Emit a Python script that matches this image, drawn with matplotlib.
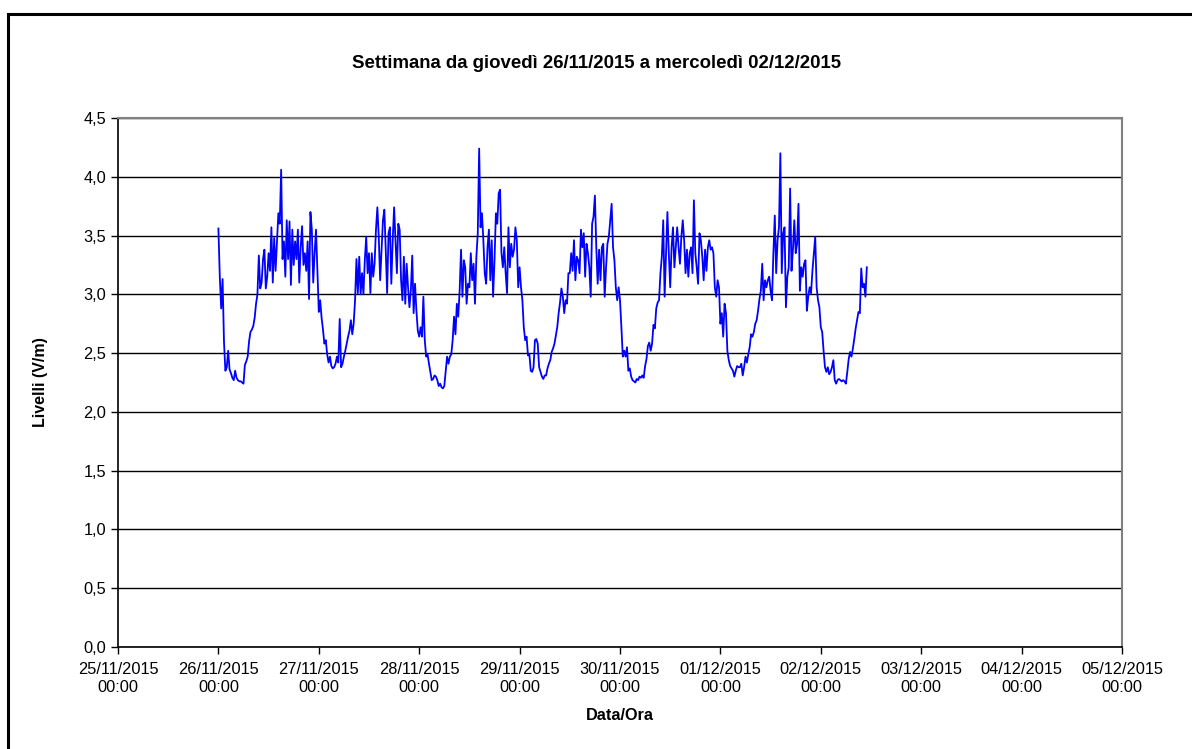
import matplotlib.pyplot as plt
import matplotlib.dates as mdates
import pandas as pd
from matplotlib.patches import Rectangle

plt.rcParams['font.family'] = ['Liberation Sans', 'DejaVu Sans']

# campioni ogni 20 minuti, un elenco per giorno (3 valori per ora)
g26 = [3.56, 3.15, 2.88, 3.13, 2.60, 2.35, 2.38, 2.52, 2.36, 2.33, 2.29, 2.27,
       2.35, 2.29, 2.27, 2.26, 2.26, 2.25, 2.24, 2.40, 2.43, 2.47, 2.60, 2.68,
       2.70, 2.73, 2.80, 2.92, 3.00, 3.33, 3.05, 3.10, 3.30, 3.38, 3.05, 3.15,
       3.35, 3.20, 3.57, 3.10, 3.48, 3.20, 3.45, 3.69, 3.60, 4.06, 3.30, 3.45,
       3.15, 3.63, 3.30, 3.62, 3.08, 3.55, 3.25, 3.45, 3.30, 3.55, 3.10, 3.40,
       3.58, 3.25, 3.35, 3.20, 3.45, 2.96, 3.70, 3.55, 3.10, 3.35, 3.55, 3.20]
g27 = [2.85, 2.95, 2.80, 2.70, 2.58, 2.61, 2.49, 2.42, 2.47, 2.39, 2.37, 2.38,
       2.41, 2.47, 2.42, 2.79, 2.38, 2.41, 2.47, 2.52, 2.58, 2.64, 2.69, 2.78,
       2.66, 2.75, 2.95, 3.30, 3.01, 3.32, 3.00, 3.18, 3.00, 3.29, 3.49, 3.18,
       3.35, 3.01, 3.35, 3.15, 3.26, 3.55, 3.74, 3.49, 3.12, 3.38, 3.63, 3.72,
       3.38, 3.01, 3.52, 3.57, 3.09, 3.46, 3.74, 3.46, 3.18, 3.60, 3.55, 3.12,
       2.95, 3.32, 2.92, 3.26, 3.06, 2.89, 3.03, 3.33, 2.84, 3.09, 2.86, 2.69]
g28 = [2.64, 2.72, 2.64, 2.98, 2.61, 2.47, 2.49, 2.41, 2.34, 2.27, 2.28, 2.31,
       2.30, 2.27, 2.22, 2.24, 2.21, 2.20, 2.22, 2.35, 2.47, 2.41, 2.47, 2.49,
       2.61, 2.81, 2.66, 2.92, 2.81, 3.03, 3.38, 2.98, 3.29, 3.23, 2.92, 3.09,
       3.06, 3.35, 3.12, 3.26, 2.92, 3.32, 3.52, 4.24, 3.57, 3.69, 3.46, 3.18,
       3.09, 3.40, 3.55, 3.12, 3.46, 2.98, 3.29, 3.69, 3.60, 3.86, 3.89, 3.35,
       3.23, 3.40, 3.18, 3.01, 3.57, 3.23, 3.43, 3.32, 3.38, 3.57, 3.46, 3.06]
g29 = [3.23, 3.06, 2.95, 2.72, 2.61, 2.64, 2.48, 2.49, 2.35, 2.34, 2.38, 2.61,
       2.62, 2.58, 2.38, 2.34, 2.30, 2.28, 2.31, 2.31, 2.37, 2.41, 2.44, 2.51,
       2.54, 2.58, 2.65, 2.72, 2.84, 2.93, 3.05, 2.98, 2.84, 2.95, 2.92, 3.18,
       3.18, 3.35, 3.20, 3.46, 3.12, 3.32, 3.29, 3.18, 3.55, 3.40, 3.52, 3.15,
       3.43, 3.35, 3.23, 2.98, 3.60, 3.66, 3.84, 3.40, 3.09, 3.38, 3.12, 3.40,
       3.43, 2.98, 3.23, 3.43, 3.49, 3.63, 3.77, 3.40, 3.29, 3.06, 2.95, 3.06]
g30 = [2.95, 2.72, 2.47, 2.52, 2.47, 2.55, 2.35, 2.37, 2.30, 2.27, 2.26, 2.25,
       2.28, 2.27, 2.30, 2.29, 2.31, 2.29, 2.39, 2.45, 2.56, 2.59, 2.52, 2.58,
       2.74, 2.71, 2.88, 2.93, 2.95, 3.18, 3.32, 3.63, 2.98, 3.35, 3.70, 3.35,
       3.06, 3.40, 3.57, 3.23, 3.40, 3.57, 3.40, 3.26, 3.49, 3.63, 3.46, 3.18,
       3.38, 3.15, 3.35, 3.40, 3.18, 3.80, 3.35, 3.23, 3.09, 3.52, 3.46, 3.32,
       3.12, 3.38, 3.20, 3.40, 3.46, 3.38, 3.40, 3.35, 3.06, 2.98, 3.12, 3.06]
g01 = [2.75, 2.84, 2.64, 2.92, 2.84, 2.52, 2.44, 2.39, 2.37, 2.35, 2.30, 2.35,
       2.39, 2.38, 2.38, 2.41, 2.31, 2.38, 2.47, 2.42, 2.49, 2.55, 2.66, 2.64,
       2.68, 2.75, 2.78, 2.86, 2.96, 3.03, 3.26, 2.95, 3.12, 3.06, 3.12, 3.15,
       3.03, 2.95, 3.35, 3.67, 3.18, 3.46, 3.57, 4.20, 3.18, 3.52, 3.57, 2.89,
       3.15, 3.23, 3.90, 3.20, 3.38, 3.63, 3.35, 3.43, 3.77, 3.03, 3.23, 3.15,
       3.26, 3.29, 2.86, 2.98, 3.06, 3.01, 3.20, 3.35, 3.49, 3.06, 2.95, 2.89]
g02 = [2.72, 2.68, 2.52, 2.38, 2.34, 2.38, 2.32, 2.34, 2.38, 2.44, 2.27, 2.24,
       2.27, 2.28, 2.27, 2.26, 2.27, 2.26, 2.24, 2.34, 2.45, 2.51, 2.47, 2.54,
       2.62, 2.71, 2.78, 2.85, 2.84, 3.22, 3.06, 3.09, 2.98, 3.23]

livelli = g26 + g27 + g28 + g29 + g30 + g01 + g02
tempi = pd.date_range('2015-11-26 00:00', periods=len(livelli), freq='20min')

fig = plt.figure(figsize=(11.92, 7.49), dpi=100)
ax = fig.add_axes([118 / 1192, 1 - 647 / 749, 1004 / 1192, 529 / 749])

# cornice esterna (solo bordo sinistro e superiore visibili)
fig.patches.append(Rectangle((8 / 1192, -0.1), 1.2, 1 - 14 / 749 + 0.1,
                             transform=fig.transFigure, fill=False,
                             edgecolor='black', linewidth=2.2))

ax.plot(tempi, livelli, color='#0000FF', linewidth=1.3)

ax.set_xlim(pd.Timestamp('2015-11-25'), pd.Timestamp('2015-12-05'))
ax.set_ylim(0, 4.5)
ax.set_yticks([i * 0.5 for i in range(10)])
ax.yaxis.set_major_formatter(plt.FuncFormatter(lambda v, p: f'{v:.1f}'.replace('.', ',')))
ax.xaxis.set_major_locator(mdates.DayLocator())
ax.xaxis.set_major_formatter(mdates.DateFormatter('%d/%m/%Y\n%H:%M'))

ax.grid(axis='y', color='black', linewidth=1.0)
ax.set_axisbelow(True)
for s in ['top', 'right']:
    ax.spines[s].set_color('#808080')
    ax.spines[s].set_linewidth(1.5)
for s in ['left', 'bottom']:
    ax.spines[s].set_linewidth(1.2)

ax.tick_params(axis='both', direction='out', length=5, width=1.0, labelsize=11.8)
ax.tick_params(axis='x', pad=6)
for t in ax.get_xticklabels():
    t.set_linespacing(1.2)
    t.set_horizontalalignment('center')

fig.text(597 / 1192, 1 - 63 / 749, 'Settimana da giovedì 26/11/2015 a mercoledì 02/12/2015',
         ha='center', va='center', fontsize=13.4, fontweight='bold')
fig.text(41 / 1192, 1 - 382 / 749, 'Livelli (V/m)', rotation=90,
         ha='center', va='center', fontsize=11.5, fontweight='bold')
fig.text(620 / 1192, 1 - 716 / 749, 'Data/Ora', ha='center', va='center',
         fontsize=11.7, fontweight='bold')

fig.savefig('out.png', dpi=100)
